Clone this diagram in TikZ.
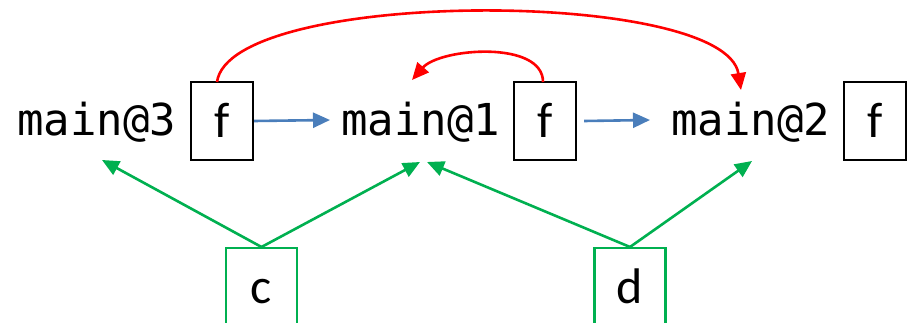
\documentclass[tikz,border=0pt]{standalone}
\usepackage{fontspec}
\usetikzlibrary{arrows.meta}
\newfontfamily\codefont{DejaVu Sans Mono}
\newfontfamily\labelfont{Carlito}
\definecolor{callred}{HTML}{FF0000}
\definecolor{flowblue}{HTML}{4A7EBB}
\definecolor{refgreen}{HTML}{00B050}
\tikzset{
  frame/.style={draw=black, line width=2.4pt, inner sep=0pt, minimum width=62pt,
    text height=56pt, text depth=22pt, font=\labelfont\fontsize{50}{54}\selectfont},
  ctxbox/.style={draw=refgreen, line width=2.4pt, inner sep=0pt, minimum width=71pt,
    text height=55pt, text depth=40pt, font=\labelfont\fontsize{50}{54}\selectfont},
  fname/.style={anchor=base west, inner sep=0pt, font=\codefont\fontsize{44}{50}\selectfont},
  tip/.style={-{Triangle[length=17pt,width=15pt]}},
  callarc/.style={tip, draw=callred, line width=2.6pt},
  flow/.style={tip, draw=flowblue, line width=2.6pt},
  ref/.style={tip, draw=refgreen, line width=2.6pt}
}
\begin{document}
\begin{tikzpicture}[x=1pt, y=-1pt]
  \clip (0,0) rectangle (907,323);
  \fill[white] (0,0) rectangle (907,323);

  % function names
  \node[fname] (m3) at (17,136) {main@3};
  \node[fname] (m1) at (341,136) {main@1};
  \node[fname] (m2) at (671,136) {main@2};

  % frame boxes
  \node[frame] (fA) at (222,121) {f};
  \node[frame] (fB) at (545,121) {f};
  \node[frame] (fC) at (875,121) {f};

  % context boxes
  \node[ctxbox, anchor=north] (c) at (261.5,247) {c};
  \node[ctxbox, anchor=north] (d) at (630,247) {d};

  % arrow targets
  \coordinate (m1in) at (330,120);
  \coordinate (m2in) at (650,120);
  \coordinate (m3low) at (102,160);
  \coordinate (m1lowL) at (420,162);
  \coordinate (m1lowR) at (427,162);
  \coordinate (m2low) at (752,161);
  \coordinate (m1top) at (412,80);
  \coordinate (m2top) at (741,90);
  \coordinate (fAtop) at (217,82);
  \coordinate (fBtop) at (543,82);

  % control flow
  \draw[flow] (fA.east) -- (m1in);
  \draw[flow] ([xshift=7pt]fB.east) -- (m2in);

  % calls
  \draw[callarc] (fAtop) .. controls (230,-12) and (725,-12) .. (m2top);
  \draw[callarc] (fBtop) .. controls (543,40) and (440,48) .. (m1top);

  % references
  \draw[ref] (c.north) -- (m3low);
  \draw[ref] (c.north) -- (m1lowL);
  \draw[ref] (d.north) -- (m1lowR);
  \draw[ref] (d.north) -- (m2low);
\end{tikzpicture}
\end{document}
